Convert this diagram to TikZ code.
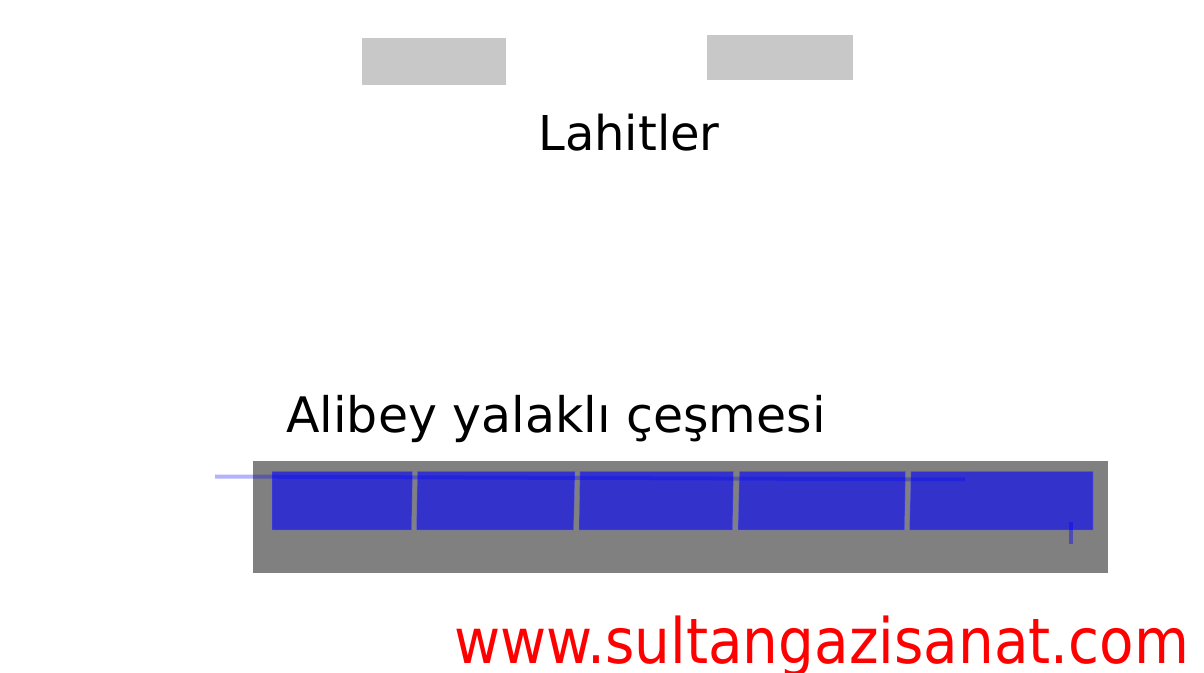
\documentclass[tikz,border=0pt]{standalone}
\usepackage{fontspec}
\setmainfont{DejaVu Sans}
\newfontfamily\urlfont{DejaVu Sans}[FakeStretch=0.90]
\definecolor{lidgrey}{RGB}{200,200,200}
\definecolor{basegrey}{RGB}{128,128,128}
\tikzset{
  lid/.style={fill=lidgrey},
  panel/.style={fill=blue,fill opacity=0.6,draw=blue!60!white,draw opacity=0.4,line width=0.5pt},
  pipe/.style={draw=blue,opacity=0.3,line width=3pt},
  label/.style={anchor=base west,inner sep=0pt,font=\fontsize{36.7}{40}\selectfont}
}
\begin{document}
\begin{tikzpicture}[x=0.75pt,y=0.75pt,yscale=-1,xscale=1]
\useasboundingbox (0,0) rectangle (1204,673);

%Shape: Rectangle [lahit 1]
\fill [lid] (362,38) rectangle (506,85);
%Shape: Rectangle [lahit 2]
\fill [lid] (707,35) rectangle (853,80);

%Shape: Rectangle [base]
\fill [basegrey] (253,461) rectangle (1108,573);
%Shape: Panels
\path [panel] (272,471.5) -- (412.5,471.5) -- (411.5,530) -- (272,530) -- cycle ;
\path [panel] (417.5,471.5) -- (575,471.5) -- (573.5,530) -- (416.5,530) -- cycle ;
\path [panel] (580,471.5) -- (733.5,471.5) -- (732.5,530) -- (579,530) -- cycle ;
\path [panel] (739.5,471.5) -- (905.5,471.5) -- (904.5,530) -- (738,530) -- cycle ;
\path [panel] (911,471.5) -- (1093,471.5) -- (1093,530) -- (909.5,530) -- cycle ;

%Straight Lines [pipe]
\coordinate (pipeA) at (215,476.5);
\coordinate (pipeB) at (965,479.5);
\draw [pipe] (pipeA) -- (pipeB) ;
%Straight Lines [tap]
\coordinate (tapA) at (1070.5,522);
\coordinate (tapB) at (1070.5,544);
\draw [pipe,opacity=0.4] (tapA) -- (tapB) ;

% Text Node
\node [label,font=\fontsize{36}{40}\selectfont] (lahitler) at (538,151) {Lahitler};
% Text Node
\node [label] (cesme) at (286,433) {Alibey yalaklı çeşmesi};
% Text Node
\node [anchor=base west,inner sep=0pt,text=red,font=\urlfont\fontsize{47}{52}\selectfont] (site) at (454,663) {www.sultangazisanat.com};

\end{tikzpicture}
\end{document}
